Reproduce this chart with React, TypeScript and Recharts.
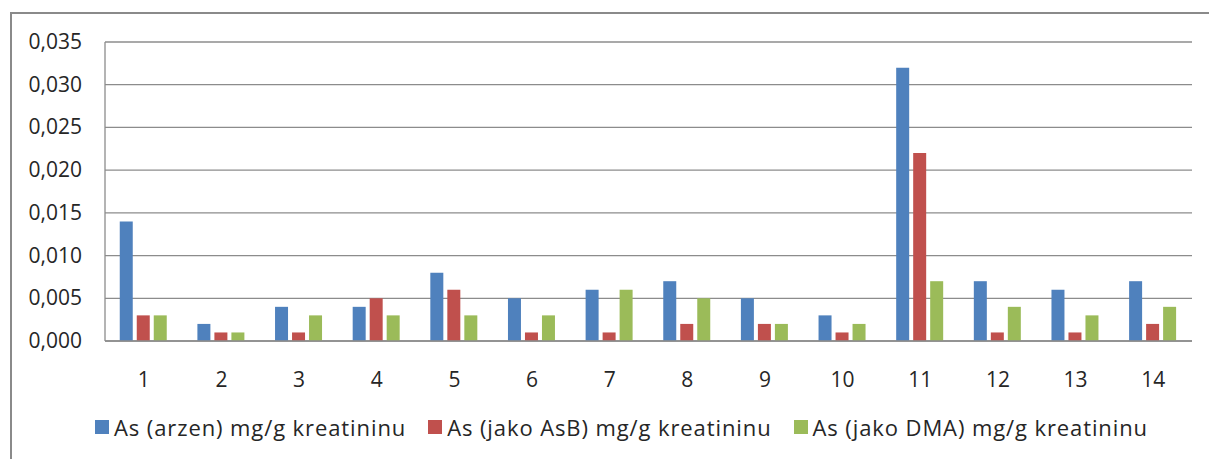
import React from "react";
import { BarChart, Bar, XAxis, YAxis, CartesianGrid } from "recharts";

const categories = ["1", "2", "3", "4", "5", "6", "7", "8", "9", "10", "11", "12", "13", "14"];
const arzen = [0.014, 0.002, 0.004, 0.004, 0.008, 0.005, 0.006, 0.007, 0.005, 0.003, 0.032, 0.007, 0.006, 0.007];
const asb = [0.003, 0.001, 0.001, 0.005, 0.006, 0.001, 0.001, 0.002, 0.002, 0.001, 0.022, 0.001, 0.001, 0.002];
const dma = [0.003, 0.001, 0.003, 0.003, 0.003, 0.003, 0.006, 0.005, 0.002, 0.002, 0.007, 0.004, 0.003, 0.004];
const yTicks = [0, 0.005, 0.01, 0.015, 0.02, 0.025, 0.03, 0.035];
const seriesNames = [
  "As (arzen) mg/g kreatininu",
  "As (jako AsB) mg/g kreatininu",
  "As (jako DMA) mg/g kreatininu",
];
const colors = ["#4F81BD", "#C0504D", "#9BBB59"];

const data = categories.map((c, i) => ({ name: c, a: arzen[i], b: asb[i], d: dma[i] }));

const FONT = "'Open Sans', 'Liberation Sans', sans-serif";

const fmt = (v: number) => v.toFixed(3).replace(".", ",");

const YTick = (props: any) => {
  const { y, payload } = props;
  return (
    <text x={82} y={y} dy={7} textAnchor="end" fontSize={21} fill="#262626" fontFamily={FONT}>
      {fmt(payload.value)}
    </text>
  );
};

const XTick = (props: any) => {
  const { x, y, payload } = props;
  return (
    <text x={x} y={y} dy={38} textAnchor="middle" fontSize={21} fill="#262626" fontFamily={FONT}>
      {payload.value}
    </text>
  );
};

export default function App() {
  return (
    <div style={{ position: "absolute", left: 0, top: 0, width: 1209, height: 459, background: "#fff", overflow: "hidden" }}>
      <div
        style={{
          position: "absolute",
          left: 10,
          top: 12,
          width: 1220,
          height: 470,
          borderTop: "2px solid #8a8a8a",
          borderLeft: "2px solid #8a8a8a",
        }}
      />
      <div style={{ position: "absolute", left: 0, top: 0 }}>
        <BarChart
          width={1209}
          height={459}
          data={data}
          margin={{ top: 42, right: 17, bottom: 0, left: 0 }}
          barCategoryGap="19%"
          barGap={4}
        >
          <CartesianGrid vertical={false} stroke="#8c8c8c" strokeWidth={1.3} />
          <XAxis
            dataKey="name"
            tickLine={false}
            axisLine={{ stroke: "#8c8c8c", strokeWidth: 1.3 }}
            tick={<XTick />}
            interval={0}
            height={118}
          />
          <YAxis
            width={105}
            domain={[0, 0.035]}
            ticks={yTicks}
            tickLine={false}
            axisLine={{ stroke: "#8c8c8c", strokeWidth: 1.3 }}
            tick={<YTick />}
            interval={0}
          />
          <Bar dataKey="a" name={seriesNames[0]} fill={colors[0]} isAnimationActive={false} />
          <Bar dataKey="b" name={seriesNames[1]} fill={colors[1]} isAnimationActive={false} />
          <Bar dataKey="d" name={seriesNames[2]} fill={colors[2]} isAnimationActive={false} />
        </BarChart>
      </div>
      <div
        style={{
          position: "absolute",
          left: 95,
          top: 412,
          display: "flex",
          alignItems: "center",
          fontFamily: FONT,
          fontSize: 22,
          letterSpacing: 0.9,
          color: "#262626",
          whiteSpace: "nowrap",
        }}
      >
        {seriesNames.map((n, i) => (
          <div key={n} style={{ display: "flex", alignItems: "center", marginRight: 22 }}>
            <span style={{ display: "inline-block", width: 14, height: 14, background: colors[i], marginRight: 5 }} />
            <span>{n}</span>
          </div>
        ))}
      </div>
    </div>
  );
}
